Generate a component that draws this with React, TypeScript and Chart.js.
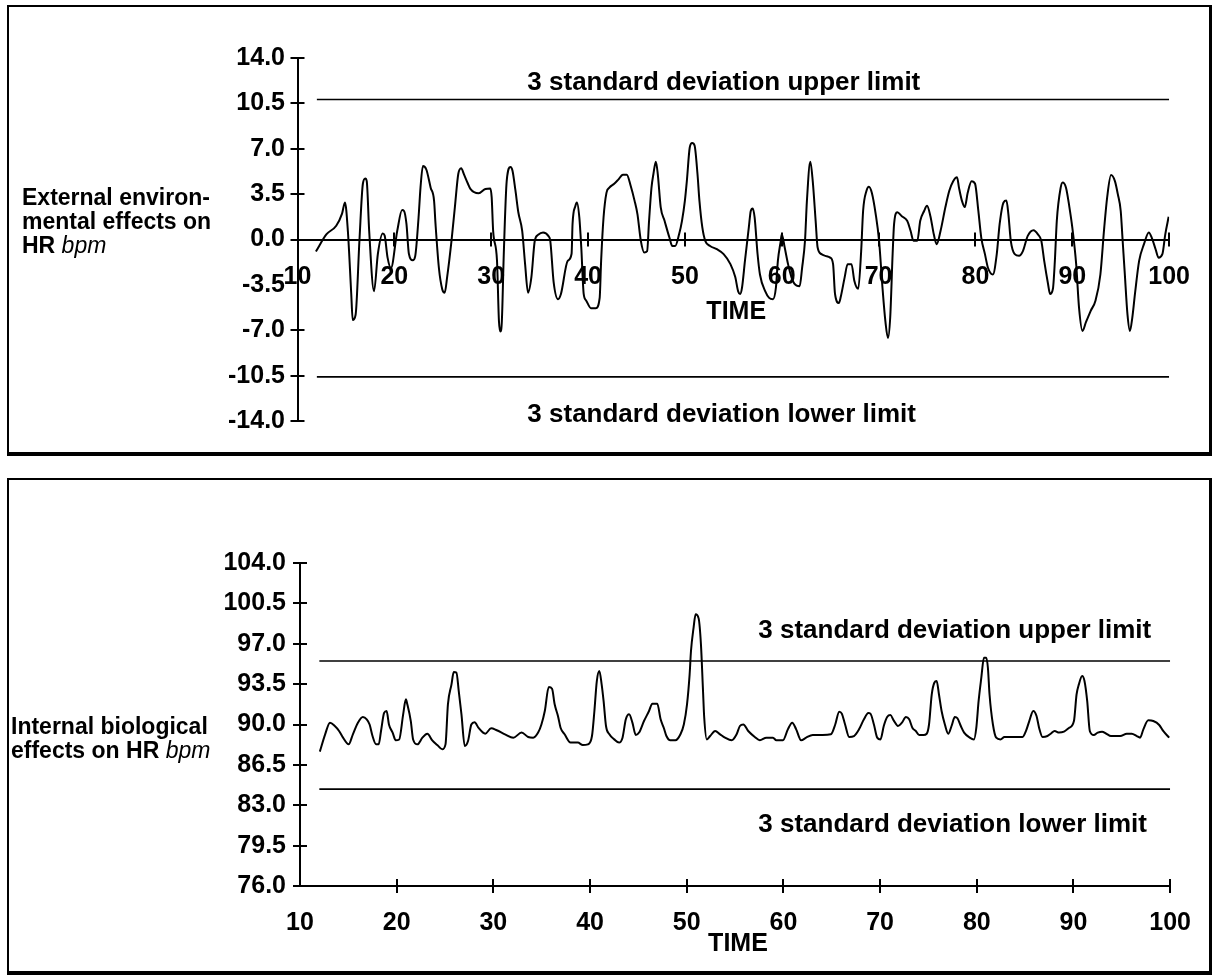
import React, { useEffect, useRef } from 'react';
import { Chart, registerables } from 'chart.js';

Chart.register(...registerables);

const FONT = "'Liberation Sans', Arial, Helvetica, sans-serif";

// ---------- External environmental effects (top panel) ----------
const extTime = [
  11.9, 13.0, 14.0, 14.6, 14.9, 15.2, 15.55, 15.7, 16.0, 16.4, 16.75, 17.0, 17.15, 17.4, 17.9, 18.3, 18.8, 19.0, 19.3, 19.65,
  20.3, 20.8, 21.0, 21.25, 21.5, 21.9, 22.15, 22.5, 22.7, 22.95, 23.3, 23.75, 24.1, 24.25, 24.6, 24.95, 25.2, 25.45, 25.9,
  26.25, 26.6, 26.9, 27.2, 27.6, 27.85, 28.7, 29.4, 29.9, 30.05, 30.2, 30.6, 30.8, 30.95, 31.1, 31.3, 31.6, 32.0, 32.2,
  32.5, 32.8, 33.2, 33.5, 33.8, 34.15, 34.5, 34.85, 35.35, 35.9, 36.1, 36.45, 36.9, 37.2, 37.9, 38.3, 38.4, 38.7, 38.85,
  39.1, 39.3, 39.55, 39.8, 40.3, 40.8, 41.2, 41.35, 41.6, 41.9, 42.2, 42.7, 43.1, 43.6, 44.0, 44.4, 44.8, 45.1, 45.45,
  45.8, 46.1, 46.3, 46.55, 46.75, 47.0, 47.2, 47.5, 47.9, 48.4, 48.7, 49.0, 49.4, 49.7, 50.0, 50.2, 50.5, 50.75, 51.0,
  51.3, 51.5, 51.8, 52.1, 52.6, 53.3, 54.0, 54.7, 55.2, 55.5, 55.7, 55.9, 56.2, 56.6, 56.8, 57.0, 57.2, 57.5, 57.75,
  58.3, 58.7, 59.1, 59.4, 59.6, 59.9, 60.0, 60.3, 60.65, 61.0, 61.3, 61.85, 62.1, 62.4, 62.6, 62.95, 63.2, 63.5, 63.7,
  64.1, 64.5, 65.0, 65.3, 65.5, 65.9, 66.1, 66.5, 66.8, 67.2, 67.5, 67.9, 68.2, 68.4, 68.75, 69.0, 69.3, 69.7, 70.05,
  70.4, 70.7, 70.97, 71.2, 71.45, 71.6, 71.93, 72.4, 72.95, 73.3, 73.6, 74.0, 74.3, 74.7, 75.0, 75.35, 75.7, 76.0, 76.4,
  76.9, 77.3, 77.7, 78.1, 78.3, 78.6, 78.9, 79.2, 79.6, 79.96, 80.3, 80.6, 80.98, 81.3, 81.8, 82.2, 82.5, 82.9, 83.2,
  83.4, 83.65, 84.06, 84.5, 84.9, 85.4, 86.0, 86.45, 86.8, 87.1, 87.5, 87.7, 88.0, 88.2, 88.4, 88.8, 89.0, 89.35, 89.7,
  90.0, 90.4, 90.7, 91.05, 91.4, 91.9, 92.4, 92.9, 93.3, 93.6, 94.0, 94.4, 94.7, 95.0, 95.2, 95.4, 95.7, 95.95, 96.2,
  96.5, 96.9, 97.4, 97.9, 98.2, 98.6, 98.9, 99.3, 99.6, 99.95,
];
const extValue = [
  -0.93, 0.41, 1.06, 2.0, 2.86, 0.67, -4.2, -6.2, -5.8, 0.0, 4.3, 4.7, 4.5, 0.67, -4.0, -1.1, 0.46, 0.3, -1.4, -2.2,
  0.67, 2.27, 2.2, 1.2, -1.1, -1.6, -1.3, 1.7, 4.0, 5.67, 5.4, 4.0, 3.0, 1.2, -2.2, -3.85, -4.1, -2.9, -0.1,
  2.5, 5.05, 5.5, 5.0, 4.3, 3.9, 3.56, 3.9, 3.94, 3.25, 0.67, -1.65, -6.3, -7.1, -6.3, -1.1, 4.5, 5.6, 5.3,
  3.8, 2.1, 0.67, -1.9, -4.1, -2.9, -0.1, 0.36, 0.54, 0.28, -0.1, -3.3, -4.6, -4.2, -1.65, -1.1, 1.2, 2.6, 2.86,
  1.7, -0.6, -4.2, -4.7, -5.3, -5.3, -4.5, -1.65, 1.7, 3.6, 4.0, 4.3, 4.6, 5.0, 5.0, 4.15, 3.0, 1.96, -0.1,
  -1.0, -0.9, 1.44, 4.0, 5.05, 6.0, 5.05, 2.5, 1.44, 0.15, -0.5, -0.5, 0.4, 1.44, 3.0, 4.5, 7.1, 7.45, 7.25,
  5.05, 3.0, 0.93, -0.1, -0.5, -0.75, -1.13, -1.9, -2.9, -4.0, -4.2, -3.7, -1.65, 0.93, 2.2, 2.4, 1.7, -1.1, -2.7,
  -4.0, -4.5, -4.6, -3.7, -1.65, -0.1, 0.4, -0.6, -1.9, -2.9, -3.4, -3.6, -2.2, -0.1, 3.0, 6.0, 4.5, 1.44, -0.6,
  -1.13, -1.26, -1.4, -1.9, -4.2, -4.9, -4.4, -2.9, -1.9, -1.9, -3.2, -3.8, -0.9, 2.2, 3.76, 4.07, 3.6, 1.96, -0.1,
  -3.7, -6.3, -7.6, -6.0, -1.1, 1.2, 2.1, 1.8, 1.44, 0.67, -0.1, -0.1, 1.44, 2.2, 2.6, 1.8, 0.4, -0.36, 0.67,
  2.5, 3.76, 4.5, 4.8, 4.0, 3.0, 2.5, 3.6, 4.5, 4.3, 2.2, 0.15, -1.13, -2.2, -2.7, -1.13, 1.2, 2.86, 3.0,
  1.96, -0.1, -1.13, -1.26, -0.9, 0.28, 0.72, 0.4, -0.1, -1.65, -3.45, -4.2, -3.8, -1.65, 1.44, 4.0, 4.4, 4.0, 2.5,
  0.93, -1.9, -5.3, -7.06, -6.4, -5.5, -4.7, -2.7, 0.93, 3.25, 4.97, 4.5, 3.5, 2.2, -0.1, -2.4, -5.8, -7.06, -6.0,
  -4.0, -1.65, -0.36, 0.54, 0.15, -0.75, -1.4, -1.13, 0.4, 1.75,
];
const extUpperLimit = 10.8;
const extLowerLimit = -10.6;
const extYMin = -14;
const extYMax = 14;

// ---------- Internal biological effects (bottom panel) ----------
const intTime = [
  12.05, 12.6, 13.1, 13.6, 14.04, 14.45, 15.03, 15.47, 15.99, 16.5, 16.9, 17.2, 17.5, 17.87, 18.14, 18.38, 18.7, 18.96,
  19.2, 19.58, 19.9, 20.26, 20.67, 20.95, 21.1, 21.46, 21.7, 22.15, 22.66, 23.17, 23.68, 24.2, 24.71, 25.05, 25.3, 25.67,
  25.9, 26.18, 26.42, 26.7, 27.04, 27.38, 27.72, 28.06, 28.47, 29.16, 29.77, 30.35, 31.2, 32.07, 32.92, 33.6, 34.12,
  34.63, 34.97, 35.32, 35.73, 36.07, 36.34, 36.68, 36.96, 37.37, 37.98, 38.74, 39.25, 39.77, 40.2, 40.45, 40.7, 40.96,
  41.2, 41.4, 41.65, 42.0, 42.5, 43.0, 43.36, 43.7, 44.04, 44.38, 44.73, 45.07, 45.58, 46.1, 46.44, 46.95, 47.3, 47.63,
  47.9, 48.3, 48.83, 49.35, 49.7, 50.03, 50.3, 50.44, 50.71, 50.92, 51.23, 51.47, 51.67, 51.81, 52.08, 52.42, 52.94,
  53.45, 53.96, 54.65, 55.16, 55.5, 55.85, 56.36, 57.04, 57.56, 58.24, 58.92, 59.27, 59.95, 60.46, 60.91, 61.32, 61.83,
  62.35, 63.03, 64.06, 64.91, 65.36, 65.77, 66.04, 66.38, 66.8, 67.3, 67.82, 68.33, 68.78, 69.0, 69.36, 69.7, 70.04,
  70.38, 70.73, 71.07, 71.4, 71.85, 72.26, 72.67, 73.01, 73.35, 73.69, 74.04, 74.48, 74.82, 75.06, 75.34, 75.61, 75.85,
  76.09, 76.36, 76.7, 77.05, 77.39, 77.73, 78.0, 78.35, 78.69, 79.27, 79.71, 79.95, 80.19, 80.47, 80.74, 80.98, 81.15,
  81.32, 81.67, 82.01, 82.45, 82.86, 83.89, 84.74, 85.09, 85.43, 85.84, 86.18, 86.45, 86.8, 87.31, 87.65, 88.06, 88.51,
  89.02, 89.53, 90.05, 90.32, 90.56, 90.9, 91.14, 91.42, 91.69, 92.1, 92.51, 92.96, 93.4, 93.88, 94.84, 95.52, 96.03,
  96.55, 96.89, 97.23, 97.74, 98.26, 98.87, 99.28, 99.9,
];
const intValue = [
  87.65, 89.15, 90.16, 89.87, 89.44, 88.86, 88.28, 89.15, 90.16, 90.65, 90.45, 90.0, 89.0, 88.28, 88.28, 89.44, 91.0, 91.17,
  90.0, 89.3, 88.63, 88.7, 90.88, 92.18, 91.75, 90.3, 88.7, 88.28, 88.86, 89.2, 88.63, 88.22, 87.85, 88.28, 91.75, 93.48,
  94.55, 94.5, 92.9, 90.88, 88.14, 88.57, 90.0, 90.2, 89.7, 89.2, 89.67, 89.5, 89.15, 88.86, 89.3, 88.92, 88.86,
  89.3, 90.0, 91.17, 93.25, 93.1, 91.75, 90.74, 89.7, 89.15, 88.43, 88.43, 88.22, 88.28, 89.0, 91.17, 93.77, 94.64,
  93.48, 92.04, 89.87, 89.15, 88.71, 88.43, 88.86, 90.45, 90.88, 90.16, 89.09, 89.3, 90.3, 91.17, 91.8, 91.8, 90.45, 89.7,
  89.0, 88.63, 88.63, 89.15, 90.0, 91.75, 94.35, 96.37, 98.4, 99.55, 99.2, 96.95, 93.2, 90.59, 88.71, 89.0, 89.44,
  89.15, 88.86, 88.63, 89.15, 89.87, 90.0, 89.44, 88.92, 88.63, 88.86, 88.86, 88.63, 88.63, 89.58, 90.16, 89.58, 88.63,
  88.86, 89.09, 89.09, 89.15, 90.0, 91.11, 90.94, 90.0, 88.92, 89.0, 89.58, 90.45, 91.0, 90.94, 90.0, 88.86, 88.71,
  89.87, 90.65, 90.82, 90.36, 89.87, 90.16, 90.65, 90.45, 89.7, 89.44, 89.09, 89.09, 89.2, 90.0, 92.6, 93.62, 93.77,
  92.6, 91.17, 90.0, 89.2, 89.87, 90.65, 90.54, 89.87, 89.3, 88.86, 88.71, 89.7, 92.04, 94.06, 95.79, 95.79, 94.92,
  92.6, 90.0, 88.86, 88.71, 88.92, 88.92, 88.92, 89.44, 90.3, 91.17, 90.74, 89.7, 88.92, 89.0, 89.2, 89.44, 89.3,
  89.38, 89.7, 90.3, 92.6, 93.48, 94.2, 93.77, 92.04, 89.44, 89.09, 89.3, 89.38, 89.2, 89.0, 89.0, 89.2, 89.2,
  89.0, 88.86, 89.58, 90.36, 90.3, 89.96, 89.44, 88.86,
];
const intUpperLimit = 95.5;
const intLowerLimit = 84.4;
const intYMin = 76;
const intYMax = 104;

const timeMin = 10;
const timeMax = 100;
const timeStep = 10;
const yStep = 3.5;
const limitStart = 12;
const limitEnd = 100;

const xTitle = 'TIME';
const upperText = '3 standard deviation upper limit';
const lowerText = '3 standard deviation lower limit';
const extTitle = [
  [{ t: 'External environ-', i: false }],
  [{ t: 'mental effects on', i: false }],
  [{ t: 'HR ', i: false }, { t: 'bpm', i: true }],
];
const intTitle = [
  [{ t: 'Internal biological', i: false }],
  [{ t: 'effects on HR ', i: false }, { t: 'bpm', i: true }],
];

const pts = (xs: number[], ys: number[]) => xs.map((x, i) => ({ x, y: ys[i] }));

const decorPlugin = {
  id: 'decor',
  afterDraw(chart: any, _args: any, opts: any) {
    const ctx = chart.ctx;
    const xs = chart.scales.x;
    const ys = chart.scales.y;
    const area = chart.chartArea;
    const axisY = opts.xAxisAt != null ? ys.getPixelForValue(opts.xAxisAt) : area.bottom;
    const axisX = area.left;
    const L = 7;
    ctx.save();
    ctx.strokeStyle = '#000';
    ctx.lineWidth = 2;
    ys.ticks.forEach((tk: any) => {
      if ((opts.skipY || []).some((s: number) => Math.abs(s - tk.value) < 1e-6)) return;
      const p = Math.round(ys.getPixelForValue(tk.value));
      ctx.beginPath();
      ctx.moveTo(axisX - L, p);
      ctx.lineTo(axisX + L, p);
      ctx.stroke();
    });
    xs.ticks.forEach((tk: any) => {
      if (Math.abs(tk.value - xs.min) < 1e-6) return;
      const p = Math.round(xs.getPixelForValue(tk.value));
      ctx.beginPath();
      ctx.moveTo(p, axisY - L);
      ctx.lineTo(p, axisY + L);
      ctx.stroke();
    });
    ctx.fillStyle = '#000';
    ctx.textBaseline = 'middle';
    (opts.texts || []).forEach((it: any) => {
      ctx.font = `bold ${it.size}px ${FONT}`;
      ctx.textAlign = it.align;
      ctx.fillText(it.text, xs.getPixelForValue(it.x), ys.getPixelForValue(it.y));
    });
    const tt = opts.title;
    if (tt) {
      ctx.textAlign = 'left';
      tt.lines.forEach((line: any[], li: number) => {
        let x = tt.left;
        const y = tt.top + li * tt.lineGap;
        line.forEach((run) => {
          ctx.font = `${run.i ? 'italic' : 'bold'} ${tt.size}px ${FONT}`;
          ctx.fillText(run.t, x, y);
          x += ctx.measureText(run.t).width;
        });
      });
    }
    ctx.restore();
  },
};

const tickFont = { family: FONT, size: 25, weight: 'bold' as const };

function makeConfig(kind: 'ext' | 'int'): any {
  const isExt = kind === 'ext';
  const series = isExt ? pts(extTime, extValue) : pts(intTime, intValue);
  const up = isExt ? extUpperLimit : intUpperLimit;
  const lo = isExt ? extLowerLimit : intLowerLimit;
  const lineDs = (data: any[], w: number) => ({
    data,
    borderColor: '#000',
    borderWidth: w,
    pointRadius: 0,
    fill: false,
    cubicInterpolationMode: 'monotone',
  });
  return {
    type: 'line',
    data: {
      datasets: [
        lineDs(series, 2),
        lineDs([{ x: limitStart, y: up }, { x: limitEnd, y: up }], 1.6),
        lineDs([{ x: limitStart, y: lo }, { x: limitEnd, y: lo }], 1.6),
      ],
    },
    options: {
      responsive: false,
      animation: false,
      events: [],
      layout: isExt
        ? { padding: { left: 0, top: 58, right: 37.5, bottom: 69 } }
        : { padding: { left: 0, top: 73, right: 36, bottom: 0 } },
      plugins: {
        legend: { display: false },
        tooltip: { enabled: false },
        decor: isExt
          ? {
              xAxisAt: 0,
              skipY: [-3.5],
              texts: [
                { text: upperText, x: 33.73, y: 12.1, size: 26, align: 'left' },
                { text: lowerText, x: 33.73, y: -13.5, size: 26, align: 'left' },
                { text: xTitle, x: 55.3, y: -5.6, size: 25, align: 'center' },
              ],
              title: { lines: extTitle, left: 22, top: 199, lineGap: 24, size: 23 },
            }
          : {
              texts: [
                { text: upperText, x: 57.4, y: 98.1, size: 26, align: 'left' },
                { text: lowerText, x: 57.4, y: 81.3, size: 26, align: 'left' },
                { text: xTitle, x: 55.3, y: 71.0, size: 25, align: 'center' },
              ],
              title: { lines: intTitle, left: 11, top: 238, lineGap: 24, size: 23 },
            },
      },
      scales: {
        x: {
          type: 'linear',
          position: isExt ? { y: 0 } : 'bottom',
          min: timeMin,
          max: timeMax,
          grid: { display: false, drawTicks: false },
          border: { display: true, color: '#000', width: 2 },
          ticks: {
            stepSize: timeStep,
            color: '#000',
            font: tickFont,
            padding: isExt ? 23 : 22,
            maxRotation: 0,
            autoSkip: false,
            callback: (v: number) => String(Math.round(v)),
          },
          afterFit: isExt ? undefined : (s: any) => { s.height = 92; },
        },
        y: {
          type: 'linear',
          position: 'left',
          min: isExt ? extYMin : intYMin,
          max: isExt ? extYMax : intYMax,
          grid: { display: false, drawTicks: false },
          border: { display: true, color: '#000', width: 2 },
          ticks: {
            stepSize: yStep,
            color: '#000',
            font: tickFont,
            padding: isExt ? 12.5 : 14,
            autoSkip: false,
            callback: (v: number) => v.toFixed(1),
          },
          afterFit: (s: any) => { s.width = isExt ? 297.5 : 300; },
        },
      },
    },
    plugins: [decorPlugin],
  };
}

function ChartCanvas({ kind, top, height }: { kind: 'ext' | 'int'; top: number; height: number }) {
  const ref = useRef<HTMLCanvasElement | null>(null);
  useEffect(() => {
    if (!ref.current) return;
    const chart = new Chart(ref.current, makeConfig(kind));
    return () => chart.destroy();
  }, [kind]);
  return (
    <canvas
      ref={ref}
      width={1213}
      height={height}
      style={{ position: 'absolute', left: 0, top, width: 1213, height }}
    />
  );
}

const panelStyle = (top: number, height: number): React.CSSProperties => ({
  position: 'absolute',
  left: 7,
  top,
  width: 1205,
  height,
  boxSizing: 'border-box',
  borderStyle: 'solid',
  borderColor: '#000',
  borderTopWidth: 2,
  borderLeftWidth: 2,
  borderRightWidth: 3,
  borderBottomWidth: 4,
  background: '#fff',
});

export default function App() {
  return (
    <div style={{ position: 'fixed', left: 0, top: 0, width: 1213, height: 978, background: '#fff', overflow: 'hidden' }}>
      <div style={panelStyle(5, 451)} />
      <div style={panelStyle(478, 497)} />
      <ChartCanvas kind="ext" top={0} height={490} />
      <ChartCanvas kind="int" top={490} height={488} />
    </div>
  );
}
